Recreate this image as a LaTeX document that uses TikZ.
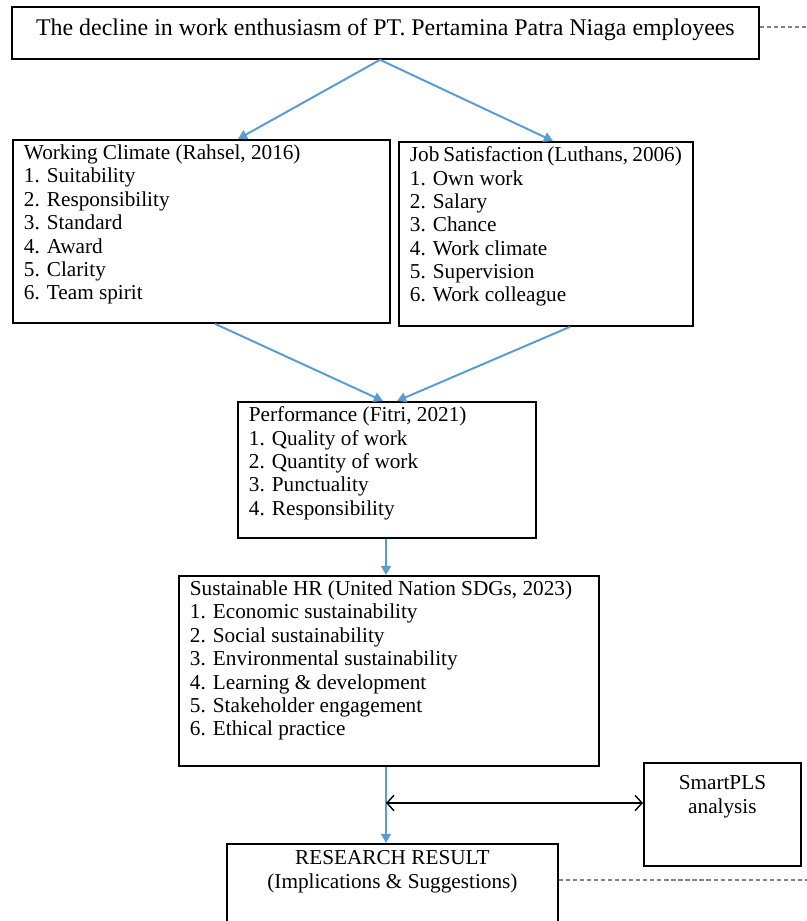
\documentclass[tikz,border=0pt]{standalone}
\usepackage{fontspec}
\setmainfont{Liberation Serif}
\usetikzlibrary{arrows.meta}

\definecolor{flowblue}{RGB}{91,155,213}
\definecolor{linkgray}{RGB}{130,130,130}
\newlength\px
\setlength\px{0.025cm}
\newcommand{\listbox}[3]{\parbox[t][#2\px][t]{#1\px}{#3}}

\tikzset{
  box/.style={draw, line width=1.3pt, anchor=north west, inner xsep=11\px, inner ysep=5\px,
    font=\fontsize{15.1}{16.6}\selectfont},
  flow/.style={flowblue, line width=1.4pt, -{Triangle[length=6.5pt,width=7pt]}},
  both/.style={line width=1pt, {Straight Barb[length=5pt,width=11pt]}-{Straight Barb[length=5pt,width=11pt]}},
  link/.style={linkgray, line width=1.4pt, dash pattern=on 3pt off 2pt}
}

\begin{document}
\begin{tikzpicture}[x=0.025cm, y=-0.025cm]
  \useasboundingbox (0,0) rectangle (807,921);
  \clip (0,0) rectangle (807,921);

  \node[box, font=\fontsize{17}{19}\selectfont] (decline) at (11,6)
    {\listbox{725}{42}{\centering\vspace*{7\px}The decline in work enthusiasm of PT. Pertamina Patra Niaga employees}};

  \node[box] (climate) at (12,139) {\listbox{355}{173}{Working Climate (Rahsel, 2016)\\
    1. Suitability\\ 2. Responsibility\\ 3. Standard\\ 4. Award\\ 5. Clarity\\ 6. Team spirit}};
  \node[box] (satis) at (398,141) {\listbox{272}{174}{Job Satisfaction (Luthans, 2006)\\
    1. Own work\\ 2. Salary\\ 3. Chance\\ 4. Work climate\\ 5. Supervision\\ 6. Work colleague}};

  \node[box] (perf) at (237,401) {\listbox{276}{126}{Performance (Fitri, 2021)\\
    1. Quality of work\\ 2. Quantity of work\\ 3. Punctuality\\ 4. Responsibility}};

  \node[box] (shr) at (178,575) {\listbox{398}{180}{Sustainable HR (United Nation SDGs, 2023)\\
    1. Economic sustainability\\ 2. Social sustainability\\ 3. Environmental sustainability\\
    4. Learning \& development\\ 5. Stakeholder engagement\\ 6. Ethical practice}};

  \node[box] (pls) at (643,762) {\listbox{135}{93}{\centering\vspace*{8\px}SmartPLS\\ analysis}};
  \node[box] (result) at (226,843) {\listbox{309}{100}{\centering\vspace*{2\px}RESEARCH RESULT\\ (Implications \& Suggestions)}};

  \coordinate (tap) at (386,803);
  \coordinate (tail1) at (810,27);
  \coordinate (tail2) at (810,880);

  \draw[flow] (decline.south -| 380,0) -- (climate.north -| 238,0);
  \draw[flow] (decline.south -| 380,0) -- (satis.north -| 553,0);
  \draw[flow] (climate.south -| 215,0) -- (perf.north -| 383,0);
  \draw[flow] (satis.south -| 570,0) -- (perf.north -| 397,0);
  \draw[flow] (perf.south -| 386,0) -- (shr.north -| 386,0);
  \draw[flow] (shr.south -| 386,0) -- (result.north -| 386,0);

  \draw[both] (tap) -- (pls.west |- tap);

  \draw[link] (decline.east |- tail1) -- (tail1);
  \draw[link] (result.east |- tail2) -- (tail2);
\end{tikzpicture}
\end{document}
